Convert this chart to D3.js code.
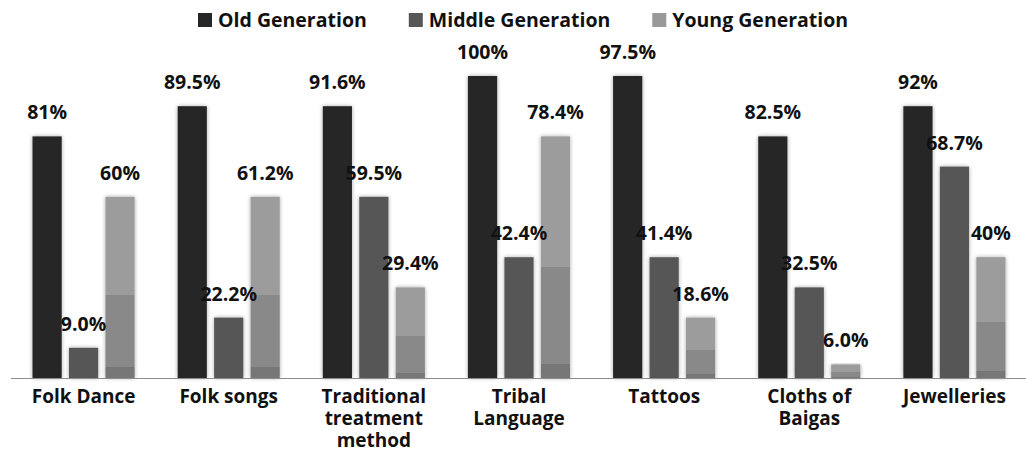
<!DOCTYPE html>
<html><head><meta charset="utf-8">
<script src="https://cdn.jsdelivr.net/npm/d3@7"></script>
<style>
html,body{margin:0;padding:0;background:#fff;}
text{font-family:"Open Sans",Lato,sans-serif;font-weight:bold;fill:#111;}
</style></head>
<body><svg id="chart" width="1026" height="453"></svg>
<script>
const categories = ["Folk Dance","Folk songs","Traditional\ntreatment\nmethod","Tribal\nLanguage","Tattoos","Cloths of\nBaigas","Jewelleries"];
const seriesNames = ["Old Generation","Middle Generation","Young Generation"];
// bar heights as drawn in the picture (%)
const oldBars = [80,90,90,100,100,80,90];
const middleBars = [10,20,60,40,40,30,70];
const youngBars = [60,60,30,80,20,4.5,40];
// value labels as printed
const oldLabels = ["81%","89.5%","91.6%","100%","97.5%","82.5%","92%"];
const middleLabels = ["9.0%","22.2%","59.5%","42.4%","41.4%","32.5%","68.7%"];
const youngLabels = ["60%","61.2%","29.4%","78.4%","18.6%","6.0%","40%"];
const colors = ["#262626","#575757","#999999"];

const svg = d3.select("#chart");
const defs = svg.append("defs");
const f = defs.append("filter").attr("id","sh").attr("x","-30%").attr("y","-10%").attr("width","160%").attr("height","120%");
f.append("feGaussianBlur").attr("in","SourceAlpha").attr("stdDeviation",2).attr("result","b");
f.append("feComponentTransfer").attr("in","b").attr("result","c").append("feFuncA").attr("type","linear").attr("slope",0.35);
const m = f.append("feMerge"); m.append("feMergeNode").attr("in","c"); m.append("feMergeNode").attr("in","SourceGraphic");
const g = defs.append("linearGradient").attr("id","yg").attr("x1",0).attr("y1",0).attr("x2",0).attr("y2",1);
[[0,"#9c9c9c"],[0.54,"#9c9c9c"],[0.54,"#898989"],[0.94,"#898989"],[0.94,"#777777"],[1,"#777777"]].forEach(([o,c])=>g.append("stop").attr("offset",o).attr("stop-color",c));

const x0 = d3.scaleBand().domain(categories).range([11,1027]);
const x1 = d3.scaleBand().domain(seriesNames).range([0,x0.bandwidth()]).paddingInner(0.2).paddingOuter(0.59);
const y = d3.scaleLinear().domain([0,100]).range([378,76]);

const bars = [oldBars,middleBars,youngBars];
const labels = [oldLabels,middleLabels,youngLabels];
const rows = [];
categories.forEach((c,i)=>seriesNames.forEach((s,j)=>rows.push({c,s,j,v:bars[j][i],l:labels[j][i]})));

const gb = svg.append("g");
gb.selectAll("rect").data(rows).join("rect")
  .attr("x",d=>x0(d.c)+x1(d.s)).attr("width",x1.bandwidth())
  .attr("y",d=>y(d.v)).attr("height",d=>y(0)-y(d.v))
  .attr("fill",d=>d.j===2?"url(#yg)":colors[d.j]).attr("filter","url(#sh)");

svg.append("g").selectAll("text").data(rows).join("text")
  .attr("x",d=>x0(d.c)+x1(d.s)+x1.bandwidth()/2).attr("y",d=>y(d.v)-17)
  .attr("text-anchor","middle").style("font-size","19.5px").text(d=>d.l);

svg.append("line").attr("x1",11).attr("x2",1026).attr("y1",378.5).attr("y2",378.5).attr("stroke","#8c8c8c").attr("stroke-width",1.2);

const catLines = [];
categories.forEach(c=>c.split("\n").forEach((ln,k)=>catLines.push({c,ln,k})));
svg.append("g").selectAll("text").data(catLines).join("text")
  .attr("text-anchor","middle").style("font-size","19px")
  .attr("x",d=>x0(d.c)+x0.bandwidth()/2).attr("y",d=>403+d.k*22).text(d=>d.ln);

const lg = svg.append("g");
let lx = 198;
seriesNames.forEach((s,j)=>{
  lg.append("rect").attr("x",lx).attr("y",13).attr("width",14).attr("height",14).attr("fill",colors[j]);
  const t = lg.append("text").attr("x",lx+20).attr("y",27).style("font-size","19.5px").text(s);
  lx += 20 + t.node().getComputedTextLength() + 42;
});
</script></body></html>
